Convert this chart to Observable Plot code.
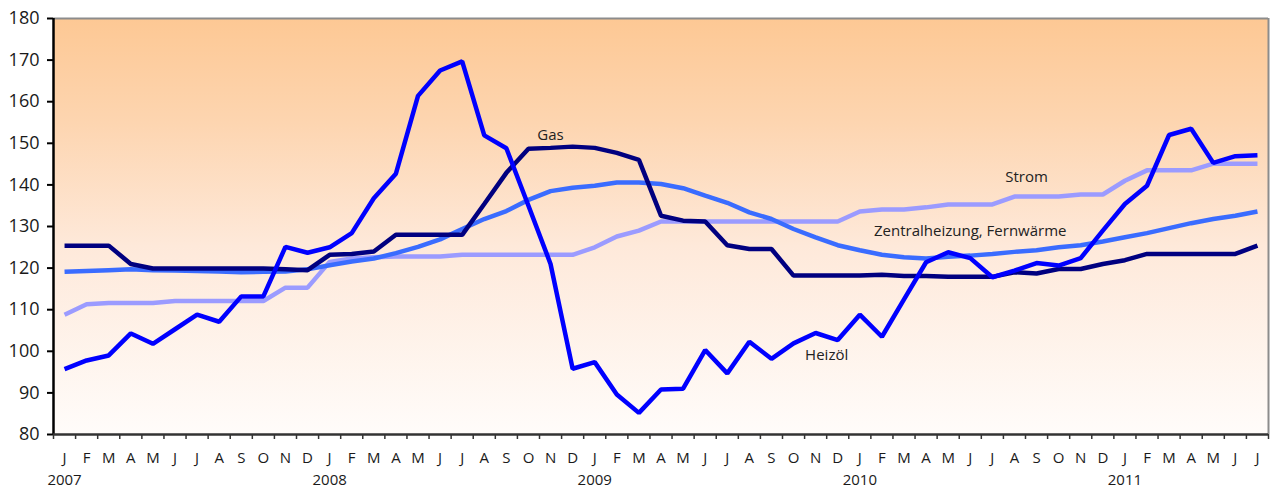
<!DOCTYPE html>
<html>
<head>
<meta charset="utf-8">
<script src="https://cdn.jsdelivr.net/npm/d3@7"></script>
<script src="https://cdn.jsdelivr.net/npm/@observablehq/plot@0.6"></script>
<style>
  html, body { margin: 0; padding: 0; background: #ffffff; }
  #chart svg { display: block; }
</style>
</head>
<body>
<div id="chart"></div>
<script>
// ---- data (monthly index values, Jan 2007 – Jul 2011) ----
const monthLetters = ["J","F","M","A","M","J","J","A","S","O","N","D"];
const years = ["2007","2008","2009","2010","2011"];
const monthCount = 55;

const heizoel = [
  95.7, 97.8, 99.0, 104.3, 101.8, 105.3, 108.8, 107.1, 113.2, 113.2, 125.1, 123.7,
  125.0, 128.4, 136.8, 142.7, 161.4, 167.5, 169.7, 151.9, 148.8, 135.0, 121.0, 95.8,
  97.4, 89.6, 85.2, 90.8, 91.0, 100.3, 94.7, 102.3, 98.2, 101.9, 104.4, 102.7,
  108.8, 103.5, 112.5, 121.4, 123.8, 122.4, 117.8, 119.4, 121.2, 120.6, 122.4, 129.0,
  135.4, 139.8, 152.0, 153.5, 145.3, 146.9, 147.1
];
const gas = [
  125.4, 125.4, 125.4, 121.0, 119.9, 119.9, 119.9, 119.9, 119.9, 119.9, 119.7, 119.5,
  123.2, 123.4, 124.0, 128.0, 128.0, 128.0, 128.0, 135.4, 142.9, 148.7, 148.9, 149.2,
  148.9, 147.7, 146.0, 132.6, 131.4, 131.2, 125.5, 124.6, 124.6, 118.2, 118.2, 118.2,
  118.2, 118.4, 118.1, 118.1, 117.9, 117.9, 117.9, 119.0, 118.7, 119.8, 119.8, 121.0,
  121.9, 123.4, 123.4, 123.4, 123.4, 123.4, 125.4
];
const zentralheizung = [
  119.1, 119.3, 119.5, 119.7, 119.5, 119.4, 119.3, 119.2, 119.0, 119.1, 119.2, 119.7,
  120.7, 121.6, 122.3, 123.6, 125.1, 126.9, 129.4, 131.8, 133.7, 136.4, 138.5, 139.3,
  139.8, 140.6, 140.6, 140.2, 139.2, 137.4, 135.7, 133.4, 131.8, 129.4, 127.4, 125.5,
  124.3, 123.2, 122.6, 122.3, 122.7, 123.0, 123.4, 123.9, 124.3, 125.0, 125.5, 126.4,
  127.4, 128.4, 129.6, 130.8, 131.8, 132.6, 133.6
];
const strom = [
  108.8, 111.3, 111.6, 111.6, 111.6, 112.1, 112.1, 112.1, 112.1, 112.1, 115.3, 115.3,
  121.5, 122.3, 122.6, 122.8, 122.8, 122.8, 123.2, 123.2, 123.2, 123.2, 123.2, 123.2,
  125.0, 127.6, 129.0, 131.2, 131.2, 131.2, 131.2, 131.2, 131.2, 131.2, 131.2, 131.2,
  133.6, 134.1, 134.1, 134.6, 135.3, 135.3, 135.3, 137.2, 137.2, 137.2, 137.7, 137.7,
  141.0, 143.5, 143.5, 143.5, 145.1, 145.1, 145.1
];
const yTicks = [80, 90, 100, 110, 120, 130, 140, 150, 160, 170, 180];

const seriesNames = ["Strom", "Zentralheizung, Fernwärme", "Gas", "Heizöl"];
const seriesValues = [strom, zentralheizung, gas, heizoel];
const seriesColors = ["#9b9bff", "#3a6cff", "#000080", "#0000ff"];

// label anchors (month index, value)
const labelNames = ["Gas", "Strom", "Zentralheizung, Fernwärme", "Heizöl"];
const labelX = [22.0, 43.55, 41.0, 34.5];
const labelY = [152.0, 141.9, 128.9, 99.0];

// ---- derived tables ----
const idx = d3.range(monthCount);
const rows = seriesNames.flatMap((name, s) =>
  seriesValues[s].map((v, i) => ({series: name, i, v})));
const labels = labelNames.map((t, k) => ({t, x: labelX[k], y: labelY[k]}));
const boundaries = d3.range(monthCount + 1).map(i => i - 0.5);
const yearStarts = years.map((_, k) => k * 12);

const font = "'Open Sans', 'DejaVu Sans', sans-serif";

const gradientDefs = () => {
  const svg = d3.create("svg:defs");
  const g = svg.append("linearGradient")
    .attr("id", "bg").attr("x1", 0).attr("y1", 0).attr("x2", 0).attr("y2", 1);
  g.append("stop").attr("offset", "0%").attr("stop-color", "#fdc894");
  g.append("stop").attr("offset", "25%").attr("stop-color", "#fdd5b0");
  g.append("stop").attr("offset", "55%").attr("stop-color", "#fee9da");
  g.append("stop").attr("offset", "100%").attr("stop-color", "#fffcfa");
  return svg.node();
};

const chart = Plot.plot({
  width: 1272,
  height: 490,
  marginLeft: 53,
  marginRight: 4,
  marginTop: 18,
  marginBottom: 56,
  style: {fontFamily: font, background: "#ffffff", color: "#1a1a1a"},
  x: {domain: [-0.5, monthCount - 0.5], axis: null},
  y: {domain: [80, 180], axis: null},
  color: {domain: seriesNames, range: seriesColors},
  marks: [
    gradientDefs,
    Plot.rect([{}], {x1: -0.5, x2: monthCount - 0.5, y1: 80, y2: 180, fill: "url(#bg)"}),
    // frame
    Plot.ruleY([180], {stroke: "#8c8c8c", strokeWidth: 2}),
    Plot.ruleX([monthCount - 0.5], {stroke: "#8c8c8c", strokeWidth: 2}),
    // series lines
    Plot.line(rows, {x: "i", y: "v", z: "series", stroke: "series",
      strokeWidth: 4.5, strokeLinejoin: "miter", strokeLinecap: "butt"}),
    // y axis
    Plot.axisY({ticks: yTicks, tickSize: 6, tickPadding: 8, strokeWidth: 2,
      stroke: "#000", fontSize: 18, fill: "#1a1a1a"}),
    Plot.ruleX([-0.5], {stroke: "#000", strokeWidth: 2.5}),
    // x axis
    Plot.axisX({ticks: boundaries, tickSize: 5, tickFormat: () => "",
      stroke: "#333", strokeWidth: 1.5}),
    Plot.ruleY([80], {stroke: "#333", strokeWidth: 2.5}),
    Plot.axisX({ticks: idx, tickSize: 0, tickPadding: 18, fontSize: 15,
      tickFormat: i => monthLetters[i % 12], fill: "#1a1a1a"}),
    Plot.axisX({ticks: yearStarts, tickSize: 0, tickPadding: 40, fontSize: 15,
      tickFormat: i => years[i / 12], fill: "#1a1a1a"}),
    // labels
    Plot.text(labels, {x: "x", y: "y", text: "t", fontSize: 15, fill: "#222"})
  ]
});

document.getElementById("chart").appendChild(chart);
</script>
</body>
</html>
